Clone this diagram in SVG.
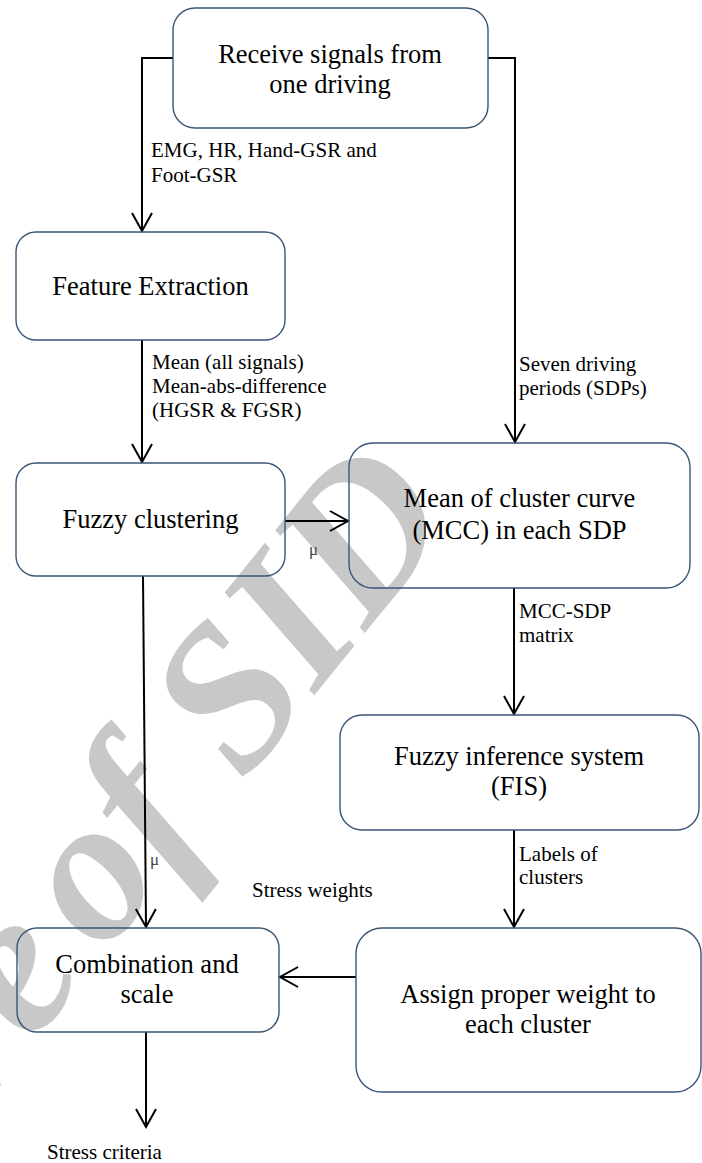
<svg xmlns="http://www.w3.org/2000/svg" width="702" height="1163" viewBox="0 0 702 1163">
<style>
.box{fill:none;stroke:#3A5576;stroke-width:1.4}
.main{font-family:"Liberation Serif","Times New Roman",serif;font-size:26.5px;fill:#000;text-anchor:middle}
.lab{font-family:"Liberation Serif","Times New Roman",serif;font-size:21px;fill:#000}
.mu{font-family:"Liberation Serif","Times New Roman",serif;font-size:17px;fill:#444}
.wm{font-family:"Liberation Serif","Times New Roman",serif;font-size:205px;font-style:italic;font-weight:bold;fill:#c8c8c8}
.con{fill:none;stroke:#000;stroke-width:2;marker-end:url(#ah)}
</style>
<defs>
<marker id="ah" markerUnits="userSpaceOnUse" markerWidth="24" markerHeight="24" viewBox="-20 -12 24 24" refX="0" refY="0" orient="auto" overflow="visible">
<path d="M-18,-10 L0,0 L-18,10" fill="none" stroke="#000" stroke-width="2"/>
</marker>
</defs>
<rect width="702" height="1163" fill="#fff"/>
<g id="watermark">
<text class="wm" transform="translate(104,955) rotate(-51)" text-anchor="start">of SID</text>
<text class="wm" transform="translate(104,955) rotate(-51)" text-anchor="end" dx="-25">Archive</text>
</g>
<g id="connectors">
<path class="con" d="M173,58 H142 V231"/>
<path class="con" d="M488,58 H515 V442"/>
<path class="con" d="M142,340 V462"/>
<path class="con" d="M285,521 H348"/>
<path class="con" d="M143,576 L146,927"/>
<path class="con" d="M514,588 V714"/>
<path class="con" d="M514,830 V927"/>
<path class="con" d="M356,977 H280"/>
<path class="con" d="M146,1032 V1127"/>
</g>
<g id="labels">
<text class="lab" x="151" y="157">EMG, HR, Hand-GSR and</text>
<text class="lab" x="151" y="182">Foot-GSR</text>
<text class="lab" x="152" y="369">Mean (all signals)</text>
<text class="lab" x="152" y="393">Mean-abs-difference</text>
<text class="lab" x="152" y="417">(HGSR &amp; FGSR)</text>
<text class="lab" x="519" y="371">Seven driving</text>
<text class="lab" x="519" y="395">periods (SDPs)</text>
<text class="lab" x="519" y="618">MCC-SDP</text>
<text class="lab" x="519" y="642">matrix</text>
<text class="lab" x="519" y="861">Labels of</text>
<text class="lab" x="519" y="884">clusters</text>
<text class="lab" x="252" y="897">Stress weights</text>
<text class="lab" x="47" y="1159">Stress criteria</text>
<text class="mu" x="309" y="555">μ</text>
<text class="mu" x="150" y="865">μ</text>
</g>
<g id="n1"><rect class="box" x="173" y="8" width="315" height="120" rx="22"/>
<text class="main" x="330" y="63">Receive signals from</text><text class="main" x="330" y="93">one driving</text></g>
<g id="n2"><rect class="box" x="16" y="232" width="269" height="108" rx="20"/>
<text class="main" x="150.5" y="295">Feature Extraction</text></g>
<g id="n3"><rect class="box" x="16" y="463" width="269" height="113" rx="20"/>
<text class="main" x="150.5" y="528">Fuzzy clustering</text></g>
<g id="n4"><rect class="box" x="349" y="443" width="341" height="145" rx="24"/>
<text class="main" x="519.5" y="507">Mean of cluster curve</text><text class="main" x="519.5" y="539">(MCC) in each SDP</text></g>
<g id="n5"><rect class="box" x="340" y="715" width="359" height="115" rx="22"/>
<text class="main" x="519" y="765">Fuzzy inference system</text><text class="main" x="519" y="795">(FIS)</text></g>
<g id="n6"><rect class="box" x="356" y="928" width="345" height="164" rx="26"/>
<text class="main" x="528" y="1003">Assign proper weight to</text><text class="main" x="528" y="1033">each cluster</text></g>
<g id="n7"><rect class="box" x="17" y="928" width="262" height="104" rx="20"/>
<text class="main" x="147" y="973">Combination and</text><text class="main" x="147" y="1003">scale</text></g>
</svg>
